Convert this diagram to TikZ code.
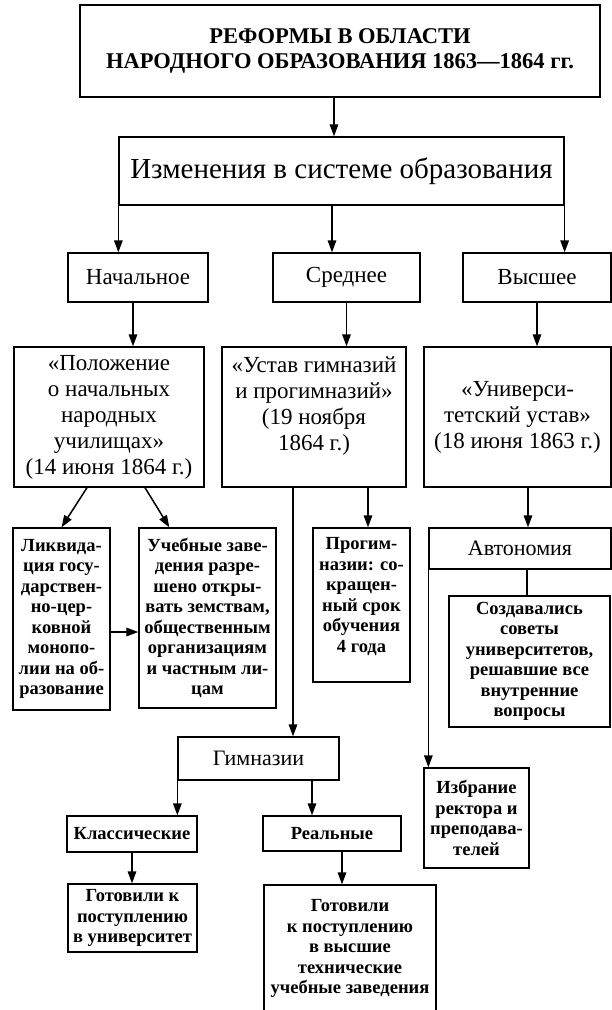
\documentclass[tikz,border=0pt]{standalone}
\usepackage{fontspec}
\setmainfont{Liberation Serif}
\usepackage{tikz}
\usetikzlibrary{arrows.meta,calc}

\begin{document}
\begin{tikzpicture}[->,>={Triangle[length=12pt,width=8.5pt]},x=1pt,y=-1pt,
                    line width=1.5pt]
  \tikzstyle{box}=[rectangle,draw=black,fill=white,line width=1.3pt,align=center,inner sep=2pt]
  \tikzstyle{big}=[box,font=\fontsize{23}{26}\selectfont]
  \tikzstyle{mid}=[box,font=\fontsize{22}{26}\selectfont]
  \tikzstyle{small}=[box,font=\fontsize{18.5}{20.5}\selectfont\bfseries]

  \useasboundingbox (0,0) rectangle (612,1010);

  \node[box,minimum width=520pt,minimum height=92pt,font=\fontsize{22.5}{25}\selectfont\bfseries] (RF) at (340,51)
        {РЕФОРМЫ В ОБЛАСТИ\\НАРОДНОГО ОБРАЗОВАНИЯ 1863—1864 гг.};
  \node[box,minimum width=445pt,minimum height=68pt,font=\fontsize{29}{32}\selectfont] (IZ) at (341.5,171)
        {Изменения в системе образования};

  \node[big,minimum width=140pt,minimum height=49pt] (NA) at (138,277.5) {Начальное};
  \node[big,minimum width=147pt,minimum height=49pt] (SR) at (346.5,277.5) {Среднее};
  \node[big,minimum width=148pt,minimum height=49pt] (VY) at (537,277.5) {Высшее};

  \node[big,minimum width=190pt,minimum height=140pt] (PO) at (109,417)
        {«Положение\\о начальных\\народных\\училищах»\\(14 июня 1864 г.)};
  \node[big,minimum width=184pt,minimum height=140pt] (UG) at (314,417)
        {«Устав гимназий\\и прогимназий»\\(19 ноября\\1864 г.)\\~};
  \node[big,minimum width=187pt,minimum height=140pt] (UU) at (517.5,417)
        {«Универси-\\тетский устав»\\(18 июня 1863 г.)};

  \node[small,minimum width=97pt,minimum height=182pt] (LI) at (61.5,619)
        {Ликвида-\\ция госу-\\дарствен-\\но-цер-\\ковной\\монопо-\\лии на об-\\разование};
  \node[small,minimum width=137pt,minimum height=180pt] (UZ) at (207.5,618)
        {Учебные заве-\\дения разре-\\шено откры-\\вать земствам,\\общественным\\организациям\\и частным ли-\\цам};
  \node[small,minimum width=97pt,minimum height=154pt] (PG) at (361.5,605)
        {Прогим-\\назии: со-\\кращен-\\ный срок\\обучения\\4 года\\~};
  \node[mid,minimum width=182pt,minimum height=41pt] (AV) at (520,548.5) {Автономия};
  \node[small,minimum width=161pt,minimum height=131pt] (SO) at (529.5,661.5)
        {Создавались\\советы\\университетов,\\решавшие все\\внутренние\\вопросы};

  \node[mid,minimum width=161pt,minimum height=43pt] (GI) at (258.5,758.5) {Гимназии};
  \node[small,minimum width=105pt,minimum height=100pt] (IR) at (476.5,818)
        {Избрание\\ректора и\\преподава-\\телей};
  \node[small,minimum width=130pt,minimum height=36pt] (KL) at (132,834) {Классические};
  \node[small,minimum width=138pt,minimum height=35pt] (RE) at (332,833.5) {Реальные};
  \node[small,minimum width=129pt,minimum height=68pt] (GU) at (132.5,918)
        {Готовили к\\поступлению\\в университет};
  \node[small,minimum width=172pt,minimum height=127pt] (GT) at (350,948.5)
        {Готовили\\к поступлению\\в высшие\\технические\\учебные заведения};

  % points where the connectors leave a box off its middle
  \coordinate (t1) at ($(RF.south)+(-6,0)$);
  \coordinate (t2) at ($(IZ.south)+(-9.5,0)$);
  \coordinate (t3) at ($(NA.south)+(-5,0)$);
  \coordinate (t4) at ($(PO.south)+(-22,0)$);
  \coordinate (t5) at ($(PO.south)+(36,0)$);
  \coordinate (t6) at ($(UZ.north west)+(31,0)$);
  \coordinate (t7) at ($(LI.east)+(0,13)$);
  \coordinate (t8) at ($(UG.south)+(-21,0)$);
  \coordinate (t9) at ($(UG.south)+(54,0)$);
  \coordinate (t10) at ($(UU.south)+(10.5,0)$);
  \coordinate (t11) at ($(AV.south)+(7,0)$);
  \coordinate (t12) at ($(GI.south)+(53.5,0)$);
  \coordinate (t13) at ($(RE.south)+(10,0)$);

  \path
(t1) edge (t1 |- IZ.north)
(IZ.south west) edge (IZ.south west |- NA.north)
(t2) edge (t2 |- SR.north)
(IZ.south east) edge (IZ.south east |- VY.north)
(t3) edge (t3 |- PO.north)
(SR.south) edge (SR.south |- UG.north)
(VY.south) edge (VY.south |- UU.north)
(t4) edge (LI.north)
(t5) edge (t6)
(t7) edge (t7 -| UZ.west)
(t8) edge (t8 |- GI.north)
(t9) edge (t9 |- PG.north)
(t10) edge (t10 |- AV.north)
(t11) edge[-] (t11 |- SO.north)
(AV.south west) edge (AV.south west |- IR.north)
(GI.south west) edge (GI.south west |- KL.north)
(t12) edge (t12 |- RE.north)
(KL.south) edge (KL.south |- GU.north)
(t13) edge (t13 |- GT.north);
\end{tikzpicture}
\end{document}
